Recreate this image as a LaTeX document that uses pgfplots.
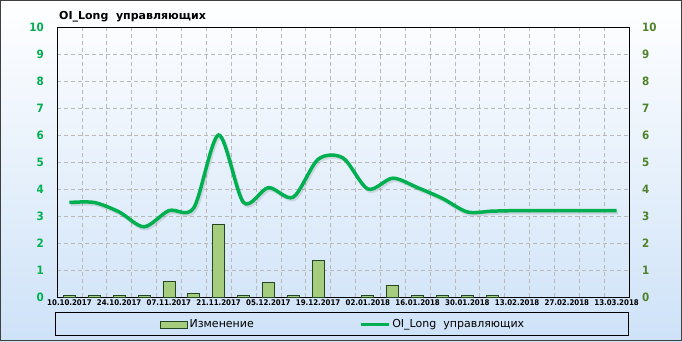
\documentclass[border=0pt]{standalone}
\usepackage{fontspec}
\setmainfont{DejaVu Sans}
\newfontfamily\condfont{DejaVu Sans Condensed}[BoldFont={DejaVu Sans Condensed Bold}]
\usepackage{pgfplots}
\pgfplotsset{compat=1.18}
\usepackage{pgfplotstable}

\definecolor{linegreen}{RGB}{0,176,80}
\definecolor{leftgreen}{RGB}{0,176,80}
\definecolor{olive}{RGB}{80,130,40}
\definecolor{bgblue}{RGB}{206,226,248}
\definecolor{gridgray}{RGB}{185,185,185}
\definecolor{barborder}{RGB}{35,70,35}
\definecolor{barfill}{RGB}{165,205,125}

\pgfplotstableread{
x y
0 0.05
1 0.05
2 0.05
3 0.05
4 0.57
5 0.14
6 2.70
7 0.05
8 0.54
9 0.05
10 1.36
12 0.05
13 0.44
14 0.05
15 0.05
16 0.05
17 0.05
}\barsdata

\pgfplotstableread{
x y
0 3.50
1 3.50
2 3.15
3 2.60
4 3.20
5 3.30
6 6.00
7 3.50
8 4.05
9 3.70
10 5.10
11 5.15
12 4.00
13 4.40
14 4.05
15 3.65
16 3.15
17 3.18
18 3.20
19 3.20
20 3.20
21 3.20
22 3.20
}\linedata

\begin{document}
\begin{tikzpicture}
\useasboundingbox (0,0) rectangle (682pt,341pt);
\shade[top color=white, middle color=white, bottom color=bgblue] (0,0) rectangle (682pt,341pt);
\draw[black!75, line width=1pt] (0.5pt,0.5pt) rectangle (681.5pt,340.5pt);
\node[anchor=base west, font=\bfseries\fontsize{11}{13}\selectfont, inner sep=0pt] at (59pt,321.7pt) {OI\_Long\ \ управляющих};
\draw[black, line width=1pt] (55.5pt,5.5pt) rectangle (628.5pt,28.5pt);

\begin{axis}[
  at={(57pt,44pt)}, anchor=south west,
  scale only axis, width=572pt, height=270pt,
  xmin=-0.5, xmax=22.5, ymin=0, ymax=10,
  enlargelimits=false,
  axis line style={black, line width=1pt},
  xtick={0,2,...,22},
  xticklabels={10.10.2017,24.10.2017,07.11.2017,21.11.2017,05.12.2017,19.12.2017,02.01.2018,16.01.2018,30.01.2018,13.02.2018,27.02.2018,13.03.2018},
  minor xtick={-0.5,0.5,...,22.5},
  ytick={0,1,...,10},
  ytick pos=left, xtick pos=bottom,
  major tick length=0pt, minor tick length=0pt,
  xmajorgrids=false, xminorgrids=true, ymajorgrids=true,
  grid style={draw=gridgray, dash pattern=on 4pt off 3pt, line width=0.6pt},
  minor grid style={draw=gridgray, dash pattern=on 4pt off 3pt, line width=0.6pt},
  /pgf/number format/assume math mode=true,
  xticklabel style={font=\condfont\bfseries\fontsize{7.8}{9}\selectfont, inner sep=0pt, anchor=north, yshift=-3pt},
  yticklabel style={font=\condfont\bfseries\fontsize{11.5}{12}\selectfont, text=leftgreen, inner sep=0pt, anchor=east},
  yticklabel shift=13pt,
  legend columns=2,
  legend style={at={(0.5,-0.1019)}, anchor=center, draw=none, fill=none,
    font=\fontsize{11}{13}\selectfont,
    nodes={inner xsep=1.5pt, inner ysep=0pt},
    /tikz/every even column/.append style={column sep=104pt}},
]
\addplot[ybar, bar width=12pt, bar shift=0pt, draw=barborder, line width=0.8pt, fill=barfill,
  legend image code/.code={\draw[draw=barborder, line width=0.8pt, fill=barfill] (0pt,-3.5pt) rectangle (27pt,3.5pt);}]
  table[x=x, y=y] {\barsdata};
\addlegendentry{Изменение}
\addplot[smooth, draw=black, opacity=0.10, line width=3.5pt, xshift=1.5pt, yshift=-2pt, forget plot]
  table[x=x, y=y] {\linedata};
\addplot[smooth, draw=linegreen, line width=3.5pt,
  legend image code/.code={\draw[draw=linegreen, line width=3.5pt] (0pt,0pt) -- (28pt,0pt);}]
  table[x=x, y=y] {\linedata};
\addlegendentry{OI\_Long\ \ управляющих}
\end{axis}

\begin{axis}[
  at={(57pt,44pt)}, anchor=south west,
  scale only axis, width=572pt, height=270pt,
  xmin=-0.5, xmax=22.5, ymin=0, ymax=10,
  enlargelimits=false,
  axis x line=none, axis y line*=right,
  y axis line style={draw=none},
  ytick={0,1,...,10},
  major tick length=0pt,
  /pgf/number format/assume math mode=true,
  yticklabel style={font=\condfont\bfseries\fontsize{11.5}{12}\selectfont, text=olive, inner sep=0pt, anchor=west},
  yticklabel shift=13pt,
]
\addplot[draw=none] coordinates {(0,0)};
\end{axis}
\end{tikzpicture}
\end{document}
